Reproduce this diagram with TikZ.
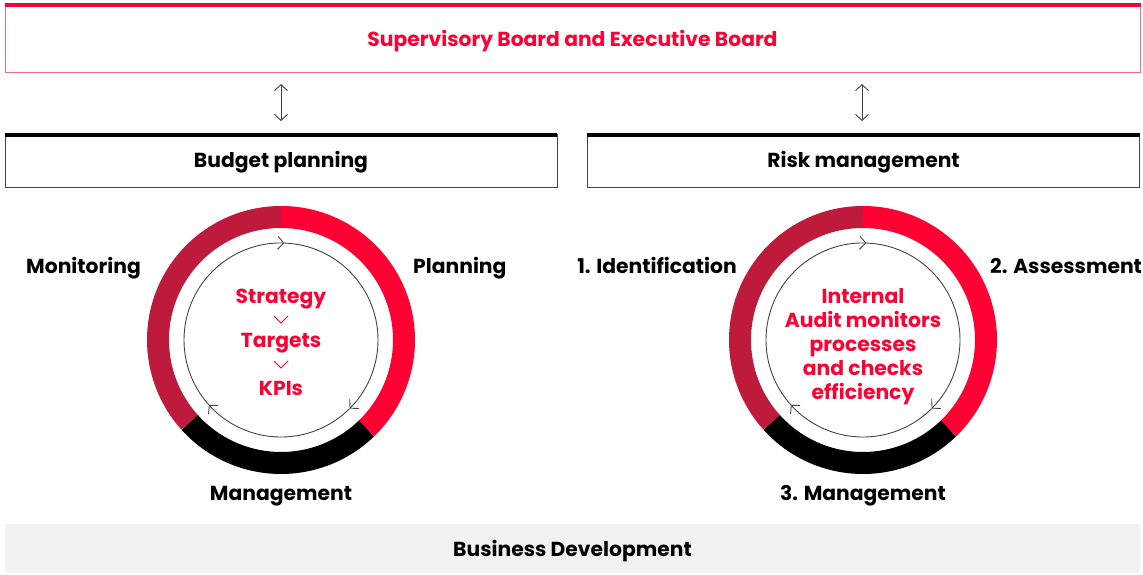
\documentclass[tikz,border=0pt]{standalone}
\usepackage{fontspec}
\setmainfont{Poppins}
\usetikzlibrary{arrows.meta}
\definecolor{brightred}{HTML}{FF0033}
\definecolor{darkred}{HTML}{BE1A3C}
\definecolor{boxgray}{HTML}{F2F2F2}
\definecolor{pinkline}{HTML}{F26A85}
\definecolor{darkline}{HTML}{444444}
\begin{document}
\begin{tikzpicture}[x=1pt,y=1pt,
  txt/.style={font=\fontsize{20.3}{24}\selectfont\bfseries},
  fixh/.style={text height=15pt, text depth=0pt},
  lbl/.style={txt, fixh, text=black, inner sep=0pt},
  redtxt/.style={txt, text=brightred, align=center, inner sep=0pt},
  topbox/.style={draw=pinkline, line width=1pt, minimum width=1135pt, minimum height=68pt, txt, fixh, text=brightred},
  headbox/.style={draw=darkline, line width=0.8pt, minimum width=552pt, minimum height=53pt, txt, fixh, text=black},
  basebox/.style={fill=boxgray, minimum width=1135pt, minimum height=49pt, txt, fixh, text=black},
  dbl/.style={darkline, line width=0.9pt, {Straight Barb[length=6pt,width=13pt]}-{Straight Barb[length=6pt,width=13pt]}},
  ring/.style={line width=22pt},
  cyc/.style={line width=0.9pt, draw=darkline, -{Straight Barb[length=6pt,width=13pt]}},
  chev/.style={draw=brightred, line width=1pt}
]
\useasboundingbox (0,0) rectangle (1143,574);
\fill[white] (0,0) rectangle (1143,574);

% boxes
\node[topbox] (sb) at (572.5,535) {Supervisory Board and Executive Board};
\draw[brightred, line width=4pt] ([yshift=-1pt]sb.north west) -- ([yshift=-1pt]sb.north east);
\node[headbox] (bp) at (281,413.5) {Budget planning};
\draw[black, line width=4pt] ([yshift=-1pt]bp.north west) -- ([yshift=-1pt]bp.north east);
\node[headbox] (rm) at (863.5,413.5) {Risk management};
\draw[black, line width=4pt] ([yshift=-1pt]rm.north west) -- ([yshift=-1pt]rm.north east);
\node[basebox] (bd) at (572.5,25.5) {Business Development};

% arrows
\coordinate (a1t) at (281,490);
\coordinate (a1b) at (281,453);
\coordinate (a2t) at (862,490);
\coordinate (a2b) at (862,453);
\draw[dbl] (a1t) -- (a1b);
\draw[dbl] (a2t) -- (a2b);

% cycles
\foreach \cx in {281,863} {
  \draw[ring, brightred] (\cx,234) ++(90:123) arc[start angle=90, end angle=-46, radius=123];
  \draw[ring, black] (\cx,234) ++(-46:123) arc[start angle=-46, end angle=-138, radius=123];
  \draw[ring, darkred] (\cx,234) ++(90:123) arc[start angle=90, end angle=222, radius=123];
  \draw[cyc] (\cx,234) ++(-138:97) arc[start angle=-138, end angle=-272, radius=97];
  \draw[cyc] (\cx,234) ++(88:97) arc[start angle=88, end angle=-45, radius=97];
  \draw[cyc] (\cx,234) ++(-45:97) arc[start angle=-45, end angle=-138, radius=97];
}

% left centre text
\node[redtxt, fixh] (st) at (281,278) {Strategy};
\node[redtxt, fixh] (tg) at (281,234) {Targets};
\node[redtxt, fixh] (kp) at (281,186) {KPIs};
\draw[chev] (274,258) -- (281,251) -- (288,258);
\draw[chev] (274,213) -- (281,206) -- (288,213);

% right centre text
\node[redtxt] (ia) at (863,227) {Internal\\Audit monitors\\processes\\and checks\\efficiency};

% labels
\node[lbl, anchor=east] (mo) at (141,308) {Monitoring};
\node[lbl, anchor=west] (pl) at (413,308) {Planning};
\node[lbl] (mg) at (281,81) {Management};
\node[lbl, anchor=east] (id) at (737,308) {1. Identification};
\node[lbl, anchor=west] (as) at (990,308) {2. Assessment};
\node[lbl] (m3) at (863,81) {3. Management};
\end{tikzpicture}
\end{document}
